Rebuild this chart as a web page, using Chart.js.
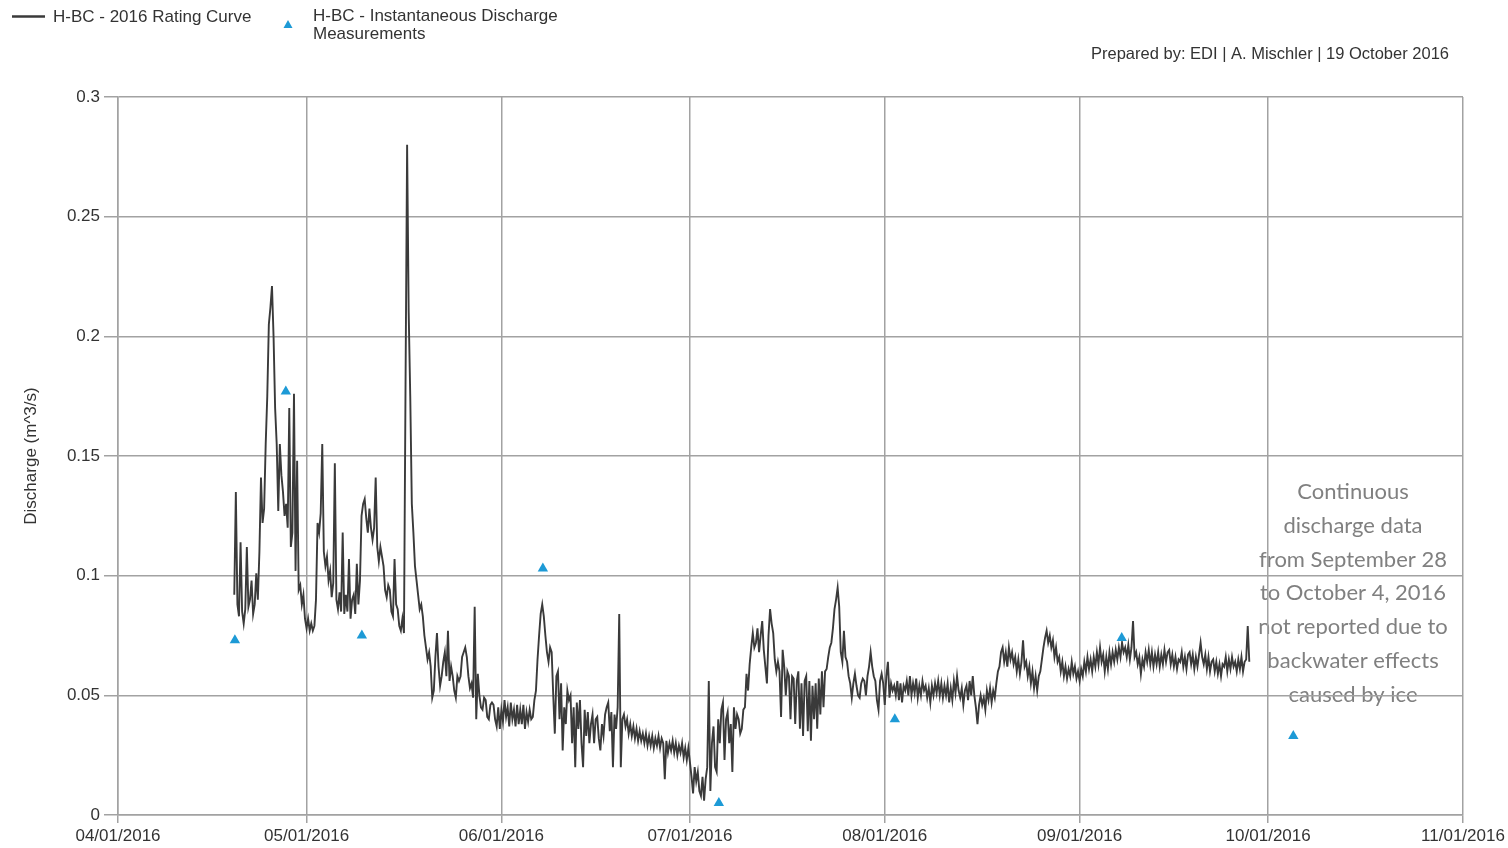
<!DOCTYPE html>
<html>
<head>
<meta charset="utf-8">
<title>H-BC Discharge 2016</title>
<script src="https://cdn.jsdelivr.net/npm/chart.js@4.4.1/dist/chart.umd.min.js"></script>
<style>
  html, body { margin: 0; padding: 0; background: #ffffff; }
  #wrap { width: 1508px; height: 848px; position: relative; }
</style>
</head>
<body>
<div id="wrap"><canvas id="c"></canvas></div>
<script>
// Month boundaries (days since 1 April 2016) and their axis labels
const monthDays = [0, 30, 61, 91, 122, 153, 183, 214];
const monthLabels = ['04/01/2016', '05/01/2016', '06/01/2016', '07/01/2016',
                     '08/01/2016', '09/01/2016', '10/01/2016', '11/01/2016'];

// Rating-curve discharge (m^3/s), 6-hourly from 19 Apr 2016 12:00
const ratingStartDay = 18.5;
const ratingStepDays = 0.25;
const ratingFlow = [
  0.092,0.135,0.088,0.083,0.114,0.085,0.080,
  0.086,0.112,0.087,0.090,0.098,0.084,0.088,
  0.101,0.090,0.110,0.141,0.122,0.128,0.155,
  0.175,0.205,0.212,0.221,0.200,0.170,0.155,
  0.127,0.155,0.142,0.135,0.125,0.130,0.120,
  0.170,0.112,0.118,0.176,0.102,0.148,0.094,
  0.096,0.088,0.092,0.082,0.078,0.082,0.077,
  0.080,0.077,0.079,0.090,0.122,0.118,0.126,
  0.155,0.110,0.104,0.108,0.098,0.102,0.091,
  0.097,0.147,0.090,0.086,0.093,0.085,0.118,
  0.084,0.092,0.085,0.107,0.082,0.090,0.092,
  0.084,0.105,0.088,0.098,0.125,0.130,0.132,
  0.124,0.118,0.128,0.120,0.115,0.120,0.141,
  0.112,0.106,0.112,0.108,0.104,0.094,0.091,
  0.096,0.094,0.085,0.083,0.107,0.088,0.086,
  0.079,0.077,0.082,0.076,0.180,0.280,0.210,
  0.175,0.130,0.118,0.104,0.098,0.092,0.086,
  0.088,0.083,0.075,0.070,0.065,0.068,0.062,
  0.049,0.052,0.066,0.076,0.062,0.054,0.058,
  0.064,0.068,0.058,0.077,0.056,0.062,0.058,
  0.052,0.049,0.058,0.056,0.058,0.066,0.068,
  0.070,0.066,0.058,0.053,0.055,0.049,0.087,
  0.040,0.059,0.050,0.045,0.044,0.049,0.048,
  0.041,0.040,0.046,0.047,0.046,0.040,0.037,
  0.045,0.036,0.044,0.039,0.048,0.041,0.045,
  0.037,0.047,0.040,0.044,0.037,0.046,0.038,
  0.044,0.038,0.046,0.036,0.043,0.039,0.044,
  0.040,0.041,0.048,0.052,0.065,0.075,0.084,
  0.088,0.083,0.075,0.068,0.064,0.070,0.068,
  0.050,0.034,0.058,0.060,0.040,0.055,0.027,
  0.045,0.038,0.052,0.048,0.050,0.030,0.045,
  0.020,0.047,0.036,0.048,0.030,0.020,0.044,
  0.033,0.043,0.030,0.038,0.042,0.030,0.040,
  0.041,0.032,0.027,0.038,0.033,0.042,0.045,
  0.047,0.035,0.043,0.020,0.042,0.036,0.045,
  0.084,0.020,0.040,0.042,0.037,0.040,0.034,
  0.038,0.033,0.037,0.032,0.036,0.031,0.035,
  0.031,0.034,0.030,0.034,0.029,0.033,0.029,
  0.033,0.028,0.032,0.029,0.033,0.028,0.032,
  0.030,0.015,0.031,0.026,0.030,0.027,0.031,
  0.026,0.030,0.025,0.029,0.026,0.030,0.024,
  0.028,0.023,0.028,0.022,0.016,0.009,0.020,
  0.014,0.018,0.010,0.008,0.016,0.006,0.015,
  0.020,0.056,0.010,0.030,0.037,0.020,0.018,
  0.040,0.030,0.044,0.047,0.023,0.040,0.043,
  0.030,0.038,0.018,0.045,0.036,0.042,0.040,
  0.034,0.036,0.044,0.045,0.059,0.052,0.063,
  0.070,0.076,0.070,0.072,0.078,0.068,0.075,
  0.081,0.069,0.062,0.055,0.075,0.086,0.080,
  0.076,0.065,0.060,0.064,0.060,0.041,0.069,
  0.062,0.050,0.060,0.058,0.040,0.058,0.057,
  0.038,0.056,0.060,0.036,0.055,0.033,0.056,
  0.058,0.035,0.056,0.031,0.054,0.040,0.055,
  0.036,0.057,0.042,0.060,0.045,0.060,0.061,
  0.066,0.070,0.072,0.078,0.086,0.090,0.095,
  0.087,0.068,0.064,0.077,0.066,0.064,0.058,
  0.055,0.049,0.055,0.059,0.054,0.050,0.049,
  0.055,0.057,0.056,0.050,0.058,0.062,0.068,
  0.062,0.058,0.056,0.048,0.044,0.056,0.059,
  0.055,0.046,0.058,0.064,0.049,0.055,0.052,
  0.054,0.050,0.056,0.048,0.055,0.047,0.054,
  0.052,0.056,0.050,0.058,0.050,0.055,0.051,
  0.057,0.049,0.054,0.050,0.056,0.052,0.054,
  0.049,0.053,0.047,0.054,0.050,0.055,0.051,
  0.056,0.050,0.055,0.049,0.054,0.050,0.055,
  0.047,0.053,0.048,0.056,0.051,0.058,0.052,
  0.049,0.053,0.046,0.052,0.054,0.048,0.056,
  0.050,0.058,0.050,0.045,0.038,0.046,0.050,
  0.046,0.049,0.044,0.052,0.048,0.053,0.047,
  0.052,0.049,0.055,0.060,0.062,0.068,0.070,
  0.064,0.068,0.062,0.070,0.065,0.068,0.063,
  0.066,0.060,0.065,0.059,0.064,0.073,0.062,
  0.064,0.058,0.062,0.055,0.060,0.053,0.058,
  0.052,0.058,0.060,0.065,0.070,0.074,0.077,
  0.072,0.075,0.070,0.073,0.066,0.070,0.064,
  0.066,0.060,0.064,0.058,0.062,0.057,0.061,
  0.058,0.064,0.059,0.062,0.057,0.060,0.056,
  0.061,0.058,0.064,0.060,0.066,0.061,0.065,
  0.060,0.066,0.062,0.068,0.063,0.070,0.064,
  0.067,0.060,0.066,0.061,0.068,0.063,0.068,
  0.064,0.069,0.065,0.070,0.066,0.072,0.068,
  0.070,0.066,0.071,0.065,0.070,0.081,0.066,
  0.068,0.063,0.066,0.059,0.065,0.062,0.068,
  0.064,0.069,0.063,0.068,0.062,0.067,0.063,
  0.068,0.062,0.067,0.063,0.069,0.064,0.068,
  0.069,0.063,0.067,0.062,0.066,0.061,0.065,
  0.064,0.068,0.062,0.066,0.061,0.067,0.068,
  0.063,0.067,0.061,0.066,0.062,0.067,0.072,
  0.066,0.063,0.067,0.061,0.066,0.060,0.064,
  0.065,0.060,0.064,0.059,0.063,0.058,0.063,
  0.062,0.066,0.060,0.065,0.061,0.066,0.062,
  0.064,0.060,0.065,0.061,0.066,0.060,0.064,
  0.065,0.079,0.064
];

// Instantaneous discharge measurements: day since 1 April, discharge (m^3/s)
const measDay  = [18.6, 26.7, 38.8, 67.6, 95.6, 123.6, 159.7, 187.0];
const measFlow = [0.073, 0.177, 0.075, 0.103, 0.005, 0.040, 0.074, 0.033];

const curveLabel = 'H-BC - 2016 Rating Curve';
const measLabel = ['H-BC - Instantaneous Discharge', 'Measurements'];
const preparedBy = 'Prepared by: EDI | A. Mischler | 19 October 2016';
const noteLines = ['Continuous', 'discharge data', 'from September 28',
                   'to October 4, 2016', 'not reported due to',
                   'backwater effects', 'caused by ice'];
// Note block anchor: horizontal centre (day) and first-line level (m^3/s)
const noteDay = 196.5;
const noteTopFlow = 0.135;

const LINE_COLOR = '#3a3a3a';
const MEAS_COLOR = '#1d9ad6';
const GRID_COLOR = 'rgb(162,162,162)';
const TEXT_COLOR = '#333333';
const FONT = "'Liberation Sans', Arial, sans-serif";

const curvePoints = ratingFlow.map((v, i) => ({ x: ratingStartDay + i * ratingStepDays, y: v }));
const measPoints = measDay.map((d, i) => ({ x: d, y: measFlow[i] }));

// Header legend, author line and the data-gap note
const decor = {
  id: 'decor',
  beforeDraw(chart) {
    const { ctx, scales } = chart;
    ctx.save();
    ctx.fillStyle = '#808080';
    ctx.font = "22px Lato, 'Open Sans', sans-serif";
    ctx.textAlign = 'center';
    ctx.textBaseline = 'middle';
    const cx = scales.x.getPixelForValue(noteDay);
    const y0 = scales.y.getPixelForValue(noteTopFlow);
    noteLines.forEach((t, i) => ctx.fillText(t, cx, y0 + i * 33.8));
    ctx.restore();
  },
  afterDraw(chart) {
    const ctx = chart.ctx;
    ctx.save();
    ctx.font = '17px ' + FONT;
    ctx.fillStyle = TEXT_COLOR;
    ctx.textBaseline = 'middle';
    ctx.textAlign = 'left';
    // line series swatch
    ctx.strokeStyle = LINE_COLOR;
    ctx.lineWidth = 2.5;
    ctx.beginPath();
    ctx.moveTo(12, 16.5);
    ctx.lineTo(45, 16.5);
    ctx.stroke();
    ctx.fillText(curveLabel, 53, 17);
    // measurement swatch
    ctx.fillStyle = MEAS_COLOR;
    ctx.beginPath();
    ctx.moveTo(288, 20);
    ctx.lineTo(292.5, 28);
    ctx.lineTo(283.5, 28);
    ctx.closePath();
    ctx.fill();
    ctx.fillStyle = TEXT_COLOR;
    ctx.fillText(measLabel[0], 313, 16);
    ctx.fillText(measLabel[1], 313, 34);
    // author line
    ctx.textAlign = 'right';
    ctx.font = '16.5px ' + FONT;
    ctx.fillText(preparedBy, 1449, 54);
    ctx.restore();
  }
};

new Chart(document.getElementById('c'), {
  type: 'line',
  data: {
    datasets: [
      {
        type: 'scatter',
        label: measLabel.join(' '),
        data: measPoints,
        pointStyle: 'triangle',
        pointRadius: 6,
        pointHoverRadius: 6,
        backgroundColor: MEAS_COLOR,
        borderColor: MEAS_COLOR,
        borderWidth: 0,
        order: 0
      },
      {
        label: curveLabel,
        data: curvePoints,
        borderColor: LINE_COLOR,
        borderWidth: 1.9,
        pointRadius: 0,
        tension: 0,
        fill: false,
        order: 1
      }
    ]
  },
  options: {
    responsive: true,
    maintainAspectRatio: false,
    animation: false,
    events: [],
    layout: { padding: { top: 97, right: 45, bottom: 0, left: 0 } },
    plugins: {
      legend: { display: false },
      tooltip: { enabled: false }
    },
    scales: {
      x: {
        type: 'linear',
        min: monthDays[0],
        max: monthDays[monthDays.length - 1],
        afterBuildTicks: (scale) => { scale.ticks = monthDays.map(v => ({ value: v })); },
        afterFit: (scale) => { scale.height = 33; },
        grid: { color: GRID_COLOR, lineWidth: 1.5, tickLength: 8, drawTicks: true },
        border: { color: GRID_COLOR, width: 1.5 },
        ticks: {
          autoSkip: false,
          maxRotation: 0,
          padding: 3,
          color: TEXT_COLOR,
          font: { family: FONT, size: 17 },
          callback: (v) => {
            const i = monthDays.indexOf(v);
            return i >= 0 ? monthLabels[i] : '';
          }
        }
      },
      y: {
        min: 0,
        max: 0.3,
        afterFit: (scale) => { scale.width = 118; },
        grid: { color: GRID_COLOR, lineWidth: 1.5, tickLength: 14, drawTicks: true },
        border: { color: GRID_COLOR, width: 1.5 },
        title: {
          display: true,
          text: 'Discharge (m^3/s)',
          color: TEXT_COLOR,
          font: { family: FONT, size: 17 },
          padding: { top: 21, bottom: 0 }
        },
        ticks: {
          stepSize: 0.05,
          padding: 4,
          color: TEXT_COLOR,
          font: { family: FONT, size: 17 },
          callback: (v) => String(+v.toFixed(2))
        }
      }
    }
  },
  plugins: [decor]
});
</script>
</body>
</html>
